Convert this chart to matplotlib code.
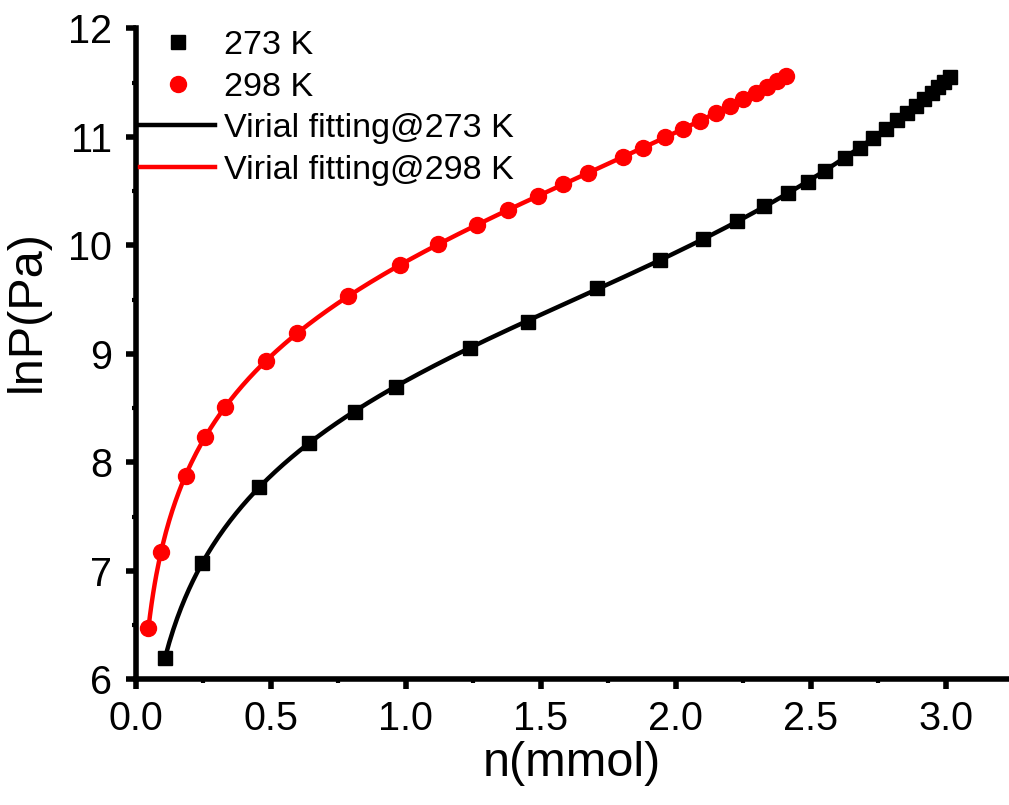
import numpy as np
import matplotlib.pyplot as plt
from matplotlib.ticker import MultipleLocator

plt.rcParams['font.family'] = ['Liberation Sans', 'DejaVu Sans']

# ===== 吸附数据 =====
n_273 = [0.110, 0.244, 0.458, 0.643, 0.812, 0.963, 1.238, 1.452, 1.707, 1.942,
         2.100, 2.228, 2.328, 2.415, 2.489, 2.553, 2.627, 2.683, 2.732, 2.779,
         2.818, 2.856, 2.890, 2.920, 2.948, 2.970, 2.995, 3.016]
lnp_273 = [6.199, 7.075, 7.775, 8.181, 8.466, 8.697, 9.051, 9.296, 9.604, 9.868,
           10.058, 10.224, 10.362, 10.479, 10.586, 10.685, 10.807, 10.900, 10.992, 11.072,
           11.155, 11.222, 11.287, 11.346, 11.401, 11.456, 11.508, 11.554]

n_298 = [0.047, 0.094, 0.186, 0.256, 0.331, 0.481, 0.599, 0.787, 0.979, 1.121,
         1.263, 1.378, 1.491, 1.584, 1.676, 1.805, 1.878, 1.960, 2.026, 2.090,
         2.148, 2.201, 2.248, 2.296, 2.337, 2.374, 2.407]
lnp_298 = [6.476, 7.176, 7.874, 8.230, 8.507, 8.936, 9.194, 9.533, 9.818, 10.009,
           10.187, 10.325, 10.454, 10.562, 10.664, 10.817, 10.900, 10.995, 11.072, 11.148,
           11.222, 11.287, 11.346, 11.406, 11.462, 11.514, 11.560]


def virial_fit(n, lnp, deg=4):
    # lnP = ln n + sum(c_i * n^i)
    n = np.asarray(n)
    lnp = np.asarray(lnp)
    coef = np.polyfit(n, lnp - np.log(n), deg)
    nn = np.linspace(n.min(), n.max(), 400)
    return nn, np.log(nn) + np.polyval(coef, nn)


fig = plt.figure(figsize=(10.09, 8.05), dpi=100)
ax = fig.add_axes([0.1345, 0.1562, 0.8655, 0.8086])

nf, lf = virial_fit(n_273, lnp_273)
ax.plot(nf, lf, color='black', lw=3.2, label='Virial fitting@273 K', zorder=2)
nf, lf = virial_fit(n_298, lnp_298)
ax.plot(nf, lf, color='red', lw=3.2, label='Virial fitting@298 K', zorder=2)
ax.plot(n_273, lnp_273, 's', color='black', ms=10, ls='none', label='273 K', zorder=3)
ax.plot(n_298, lnp_298, 'o', color='red', ms=11.5, ls='none', label='298 K', zorder=3)

ax.set_xlim(0, 3.234)
ax.set_ylim(6, 12)
ax.xaxis.set_major_locator(MultipleLocator(0.5))
ax.xaxis.set_minor_locator(MultipleLocator(0.25))
ax.yaxis.set_major_locator(MultipleLocator(1))
ax.yaxis.set_minor_locator(MultipleLocator(0.5))
ax.xaxis.set_major_formatter(plt.FormatStrFormatter('%.1f'))

for s in ['top', 'right']:
    ax.spines[s].set_visible(False)
for s in ['left', 'bottom']:
    ax.spines[s].set_linewidth(4)
    ax.spines[s].set_zorder(5)
ax.tick_params(which='major', direction='out', length=7, width=4, labelsize=28.5)
ax.tick_params(axis='x', which='major', pad=8)
ax.tick_params(axis='y', which='major', pad=10)
ax.tick_params(which='minor', direction='out', length=3, width=3)

ax.set_xlabel('n(mmol)', fontsize=35, labelpad=2)
ax.set_ylabel('lnP(Pa)', fontsize=35)
ax.yaxis.set_label_coords(-0.099, 0.565)

h, l = ax.get_legend_handles_labels()
order = [2, 3, 0, 1]
ax.legend([h[i] for i in order], [l[i] for i in order],
          loc='upper left', bbox_to_anchor=(140 / 1009, 1 - 30 / 805),
          bbox_transform=fig.transFigure, frameon=False, fontsize=24.6,
          borderpad=0, borderaxespad=0, handlelength=2.2, handletextpad=0.25,
          labelspacing=0.31)

plt.savefig('out.png', dpi=100)
